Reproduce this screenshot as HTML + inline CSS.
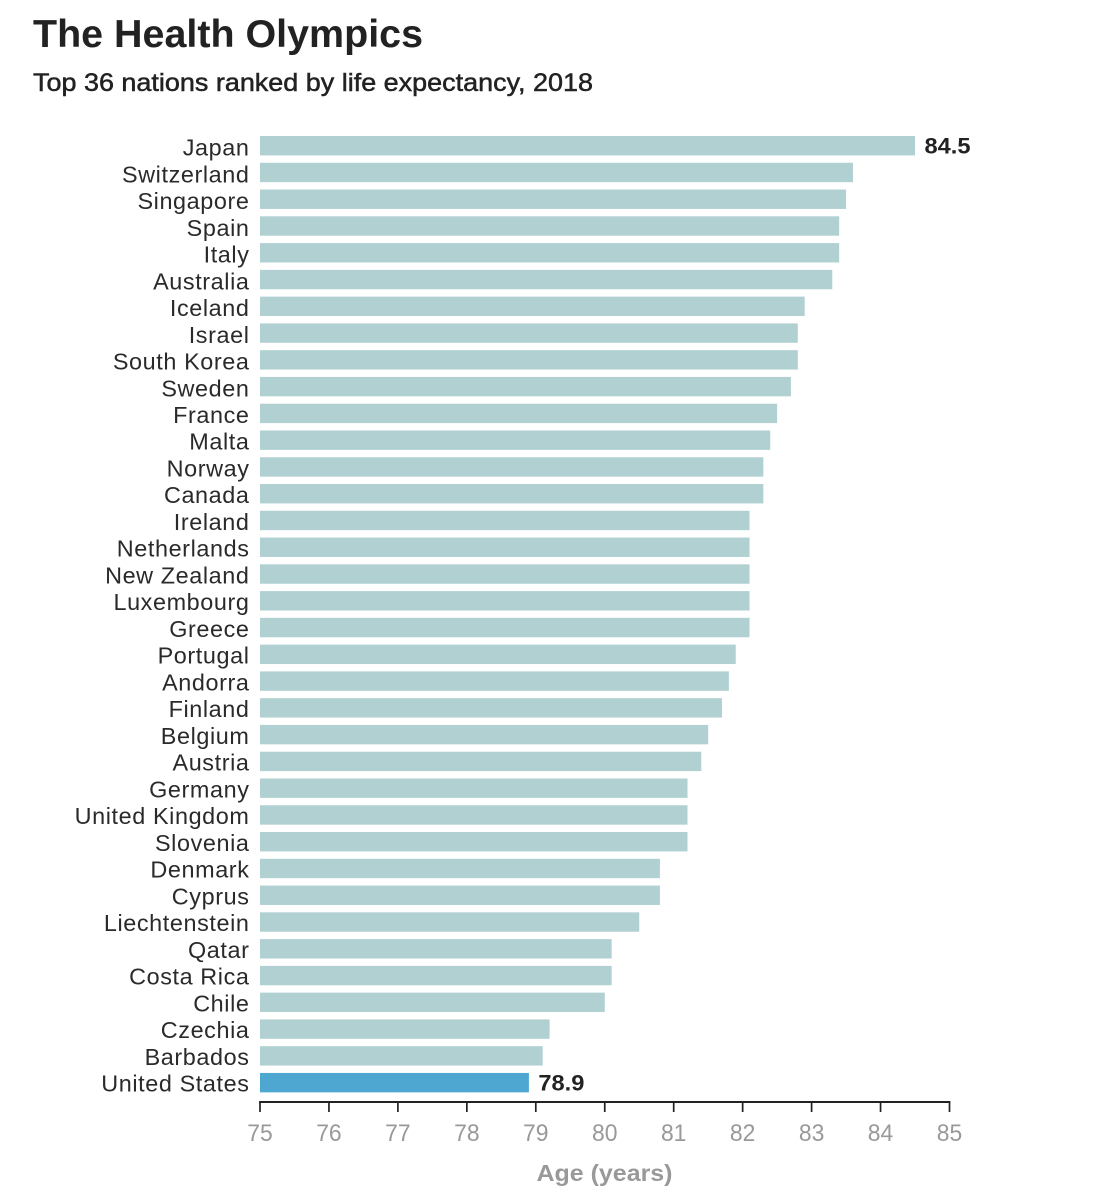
<!DOCTYPE html>
<html lang="en">
<head>
<meta charset="utf-8">
<title>The Health Olympics</title>
<style>
html,body{margin:0;padding:0;background:#fff;}
svg{display:block;font-family:"Liberation Sans",sans-serif;}
</style>
</head>
<body>
<svg id="chart" width="1120" height="1200" viewBox="0 0 1120 1200" xmlns="http://www.w3.org/2000/svg">
  <text x="33" y="47" font-size="38.5" font-weight="700" fill="#222" textLength="390" lengthAdjust="spacingAndGlyphs">The Health Olympics</text>
  <text x="33" y="91" font-size="25" fill="#222" stroke="#222" stroke-width="0.5" textLength="560" lengthAdjust="spacingAndGlyphs">Top 36 nations ranked by life expectancy, 2018</text>
  <g id="bars"></g>
  <g id="axis"></g>
  <text x="604.5" y="1181" font-size="23.5" font-weight="700" fill="#999" text-anchor="middle" textLength="136" lengthAdjust="spacingAndGlyphs">Age (years)</text>
</svg>
<script>
const countries = ["Japan","Switzerland","Singapore","Spain","Italy","Australia","Iceland","Israel","South Korea","Sweden","France","Malta","Norway","Canada","Ireland","Netherlands","New Zealand","Luxembourg","Greece","Portugal","Andorra","Finland","Belgium","Austria","Germany","United Kingdom","Slovenia","Denmark","Cyprus","Liechtenstein","Qatar","Costa Rica","Chile","Czechia","Barbados","United States"];
const lifeExpectancy = [84.5,83.6,83.5,83.4,83.4,83.3,82.9,82.8,82.8,82.7,82.5,82.4,82.3,82.3,82.1,82.1,82.1,82.1,82.1,81.9,81.8,81.7,81.5,81.4,81.2,81.2,81.2,80.8,80.8,80.5,80.1,80.1,80.0,79.2,79.1,78.9];
const tickValues = [75,76,77,78,79,80,81,82,83,84,85];
const labelledCountries = ["Japan","United States"];
const highlightedCountry = "United States";

const NS = "http://www.w3.org/2000/svg";
const xDomain = [75, 85];
const xRange = [260, 949.5];
const bandTop = 136;
const bandStep = 26.77;
const labelBaselineTop = 155.6;
const labelStep = 26.74;
const barHeight = 19.4;
const axisY = 1102;

function xScale(v) {
  return xRange[0] + (v - xDomain[0]) / (xDomain[1] - xDomain[0]) * (xRange[1] - xRange[0]);
}
function yScale(i) {
  return bandTop + i * bandStep;
}
function labelY(i) {
  return labelBaselineTop + i * labelStep;
}
function make(tag, attrs, parent, text) {
  const el = document.createElementNS(NS, tag);
  for (const k in attrs) el.setAttribute(k, attrs[k]);
  if (text !== undefined) el.textContent = text;
  parent.appendChild(el);
  return el;
}

const barsG = document.getElementById("bars");
const axisG = document.getElementById("axis");
const slug = s => s.toLowerCase().replace(/\s+/g, "-");

countries.forEach((name, i) => {
  const v = lifeExpectancy[i];
  const y = yScale(i);

  const label = make("text", {
    x: 249.5, y: labelY(i), "font-size": 23.4, "letter-spacing": 0.6, fill: "#2a2a2a", "text-anchor": "end"
  }, barsG, name);
  
  

  const bar = make("rect", {
    x: xScale(xDomain[0]), y: y, width: xScale(v) - xScale(xDomain[0]), height: barHeight,
    fill: name === highlightedCountry ? "#4ea7d1" : "#b1d0d2"
  }, barsG);
  
  

  if (labelledCountries.includes(name)) {
    const val = make("text", {
      x: xScale(v) + 9.5, y: y + 17.3, "font-size": 22, "font-weight": 700, fill: "#222",
      textLength: 46, lengthAdjust: "spacingAndGlyphs"
    }, barsG, v.toFixed(1));
    
    
  }
});

const axisLine = make("line", {
  x1: xScale(xDomain[0]) - 0.9, x2: xScale(xDomain[1]) + 0.9, y1: axisY, y2: axisY,
  stroke: "#222", "stroke-width": 1.9
}, axisG);



tickValues.forEach(t => {
  const tick = make("line", {
    x1: xScale(t), x2: xScale(t), y1: axisY, y2: axisY + 10,
    stroke: "#222", "stroke-width": 1.7
  }, axisG);
  
  

  const tl = make("text", {
    x: xScale(t), y: 1141, "font-size": 24.5, fill: "#999", "text-anchor": "middle",
    textLength: 25.5, lengthAdjust: "spacingAndGlyphs"
  }, axisG, String(t));
  
  
});
</script>
</body>
</html>
